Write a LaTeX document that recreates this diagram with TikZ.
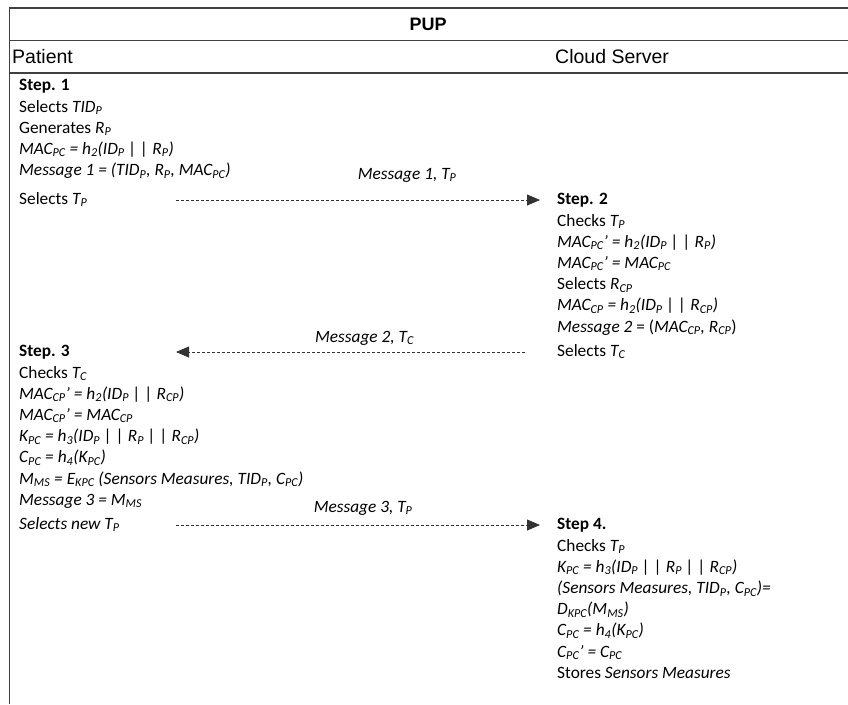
\documentclass[tikz,border=0pt]{standalone}
\usepackage{fontspec}
\setmainfont{Carlito}
\newfontfamily\headfont{Liberation Sans}
\usetikzlibrary{arrows.meta,positioning}

\newcommand{\sub}[1]{\textsubscript{#1}}
\newcommand{\ls}{\rule[-6.2pt]{0pt}{21.2pt}}

\tikzset{
  rule/.style={draw=black!75, line width=1.4pt},
  head/.style={font=\headfont\fontsize{19.5}{22}\selectfont, inner sep=0pt, anchor=west},
  ln/.style={font=\fontsize{17.3}{21.2}\selectfont, inner sep=0pt, text height=15pt, text depth=6.2pt, anchor=west},
  stephead/.style={ln, font=\fontsize{17.3}{21.2}\selectfont\bfseries},
  body/.style={font=\fontsize{17.3}{21.2}\selectfont, inner sep=0pt, align=left, below=0pt of #1.south west, anchor=north west},
  msg/.style={draw=black!80, dash pattern=on 3pt off 2pt, line width=0.8pt, -{Triangle[length=13pt,width=11pt]}},
  lbl/.style={font=\fontsize{17.3}{21}\selectfont\itshape, inner sep=0pt, anchor=base}
}

\begin{document}
\begin{tikzpicture}[x=1pt, y=-1pt]
  \useasboundingbox (0,0) rectangle (848,704);
  % table frame
  \draw[rule] (9.5,7.3) -- (9.5,704);
  \draw[rule] (8.8,8) -- (848,8);
  \draw[rule] (8.8,40.5) -- (848,40.5);
  \draw[rule] (8.8,73) -- (848,73);

  \node[head, font=\headfont\bfseries\fontsize{18}{21}\selectfont, anchor=center] (pup) at (428,24) {PUP};
  \node[head] (patient) at (12,57) {Patient};
  \node[head] (cloud) at (555,57) {Cloud Server};

  % patient, step 1
  \node[stephead] (st1) at (19,86) {Step. 1};
  \node[body=st1] (b1) {\ls Selects \textit{TID\sub{P}}\\
    \ls Generates \textit{R\sub{P}}\\
    \ls\textit{MAC\sub{PC} = h\sub{2}(ID\sub{P} | | R\sub{P})}\\
    \ls\textit{Message 1 = (TID\sub{P}, R\sub{P}, MAC\sub{PC})}};
  \node[ln] (sel1) at (19,200) {Selects \textit{T\sub{P}}};

  % server, step 2
  \node[stephead] (st2) at (557,200) {Step. 2};
  \node[body=st2] (b2) {\ls Checks \textit{T\sub{P}}\\
    \ls\textit{MAC\sub{PC}’ = h\sub{2}(ID\sub{P} | | R\sub{P})}\\
    \ls\textit{MAC\sub{PC}’ = MAC\sub{PC}}\\
    \ls Selects \textit{R\sub{CP}}\\
    \ls\textit{MAC\sub{CP} = h\sub{2}(ID\sub{P} | | R\sub{CP})}\\
    \ls\textit{Message 2} = (\textit{MAC\sub{CP}, R\sub{CP}})};
  \node[ln] (sel2) at (557,352) {Selects \textit{T\sub{C}}};

  % patient, step 3
  \node[stephead] (st3) at (19,352) {Step. 3};
  \node[body=st3] (b3) {\ls Checks \textit{T\sub{C}}\\
    \ls\textit{MAC\sub{CP}’ = h\sub{2}(ID\sub{P} | | R\sub{CP})}\\
    \ls\textit{MAC\sub{CP}’ = MAC\sub{CP}}\\
    \ls\textit{K\sub{PC} = h\sub{3}(ID\sub{P} | | R\sub{P} | | R\sub{CP})}\\
    \ls\textit{C\sub{PC} = h\sub{4}(K\sub{PC})}\\
    \ls\textit{M\sub{MS} = E\sub{KPC} (Sensors Measures, TID\sub{P}, C\sub{PC})}\\
    \ls\textit{Message 3 = M\sub{MS}}};
  \node[ln] (sel3) at (19,525) {\textit{Selects new T\sub{P}}};

  % server, step 4
  \node[stephead] (st4) at (557,525) {Step 4.};
  \node[body=st4] (b4) {\ls Checks \textit{T\sub{P}}\\
    \ls\textit{K\sub{PC} = h\sub{3}(ID\sub{P} | | R\sub{P} | | R\sub{CP})}\\
    \ls\textit{(Sensors Measures, TID\sub{P}, C\sub{PC})=}\\
    \ls\textit{D\sub{KPC}(M\sub{MS})}\\
    \ls\textit{C\sub{PC} = h\sub{4}(K\sub{PC})}\\
    \ls\textit{C\sub{PC}’ = C\sub{PC}}\\
    \ls Stores \textit{Sensors Measures}};

  % messages
  \coordinate (laneL) at (176,0);
  \coordinate (laneR) at (540,0);
  \coordinate (laneRb) at (525,0);
  \draw[msg] (sel1 -| laneL) -- node[lbl, pos=.635, yshift=21pt] (m1) {Message 1, T\sub{P}} (st2 -| laneR);
  \draw[msg] (sel2 -| laneRb) -- node[lbl, pos=.46, yshift=10pt] (m2) {Message 2, T\sub{C}} (st3 -| laneL);
  \draw[msg] (sel3 -| laneL) -- node[lbl, pos=.514, yshift=13pt] (m3) {Message 3, T\sub{P}} (st4 -| laneR);
\end{tikzpicture}
\end{document}
